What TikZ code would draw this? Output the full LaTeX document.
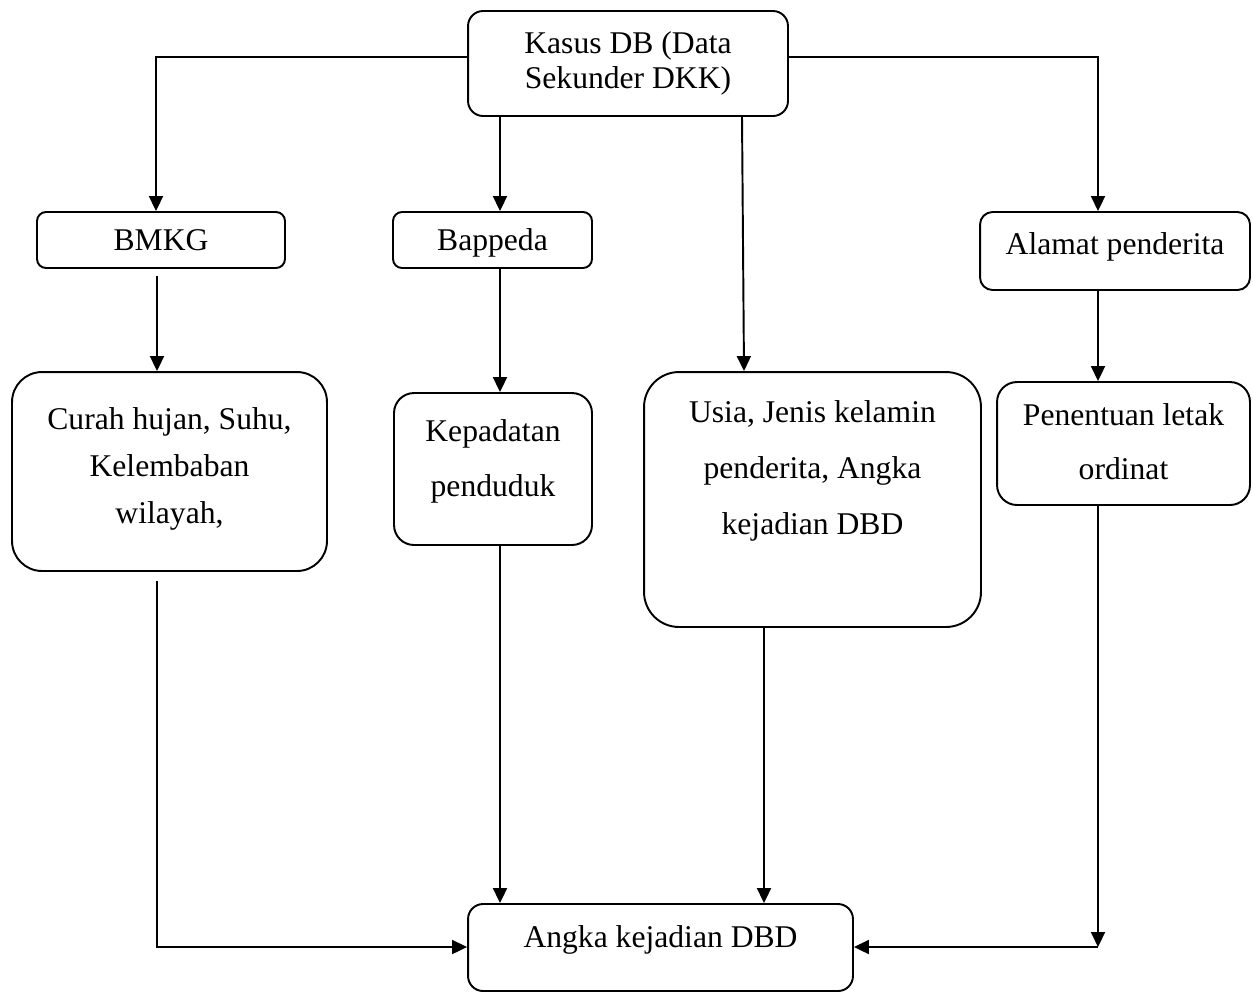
\documentclass[tikz,border=0pt]{standalone}
\usepackage{fontspec}
\setmainfont{Liberation Serif}
\usepackage{tikz}
\usetikzlibrary{arrows.meta}

\begin{document}
\begin{tikzpicture}[
	x=0.02cm, y=-0.02cm,
	kotak/.style={rectangle, draw=black, line width=1.1pt, align=center, inner sep=0pt,
	              font=\fontsize{18}{20}\selectfont},
	arr/.style={-{Triangle[length=0.3cm, width=0.28cm]}, draw=black, line width=1.1pt}
	]
\useasboundingbox (0,0) rectangle (1253,992);

\node[kotak, rounded corners=0.3cm, minimum width=6.4cm, minimum height=2.1cm] (kasus) at (628,63.5)
	{Kasus DB (Data\\ Sekunder DKK)};

\node[kotak, rounded corners=0.18cm, minimum width=4.96cm, minimum height=1.12cm, text depth=0pt] (bmkg) at (161,240) {BMKG};
\node[kotak, rounded corners=0.18cm, minimum width=3.98cm, minimum height=1.12cm, text depth=0pt] (bappeda) at (492.5,240) {Bappeda};
\node[kotak, rounded corners=0.25cm, minimum width=5.4cm, minimum height=1.56cm, text depth=8pt] (alamat) at (1115,251)
	{Alamat penderita};

\node[kotak, rounded corners=0.6cm, minimum width=6.3cm, minimum height=3.98cm, text depth=7pt,
      font=\fontsize{18}{26.7}\selectfont] (curah) at (169.5,471.5)
	{Curah hujan, Suhu,\\ Kelembaban\\ wilayah,};
\node[kotak, rounded corners=0.4cm, minimum width=3.96cm, minimum height=3.04cm, text depth=12pt,
      font=\fontsize{18}{31.3}\selectfont] (kepadatan) at (493,469)
	{Kepadatan\\ penduduk};
\node[kotak, rounded corners=0.7cm, minimum width=6.74cm, minimum height=5.1cm, text depth=36pt,
      font=\fontsize{18}{31.8}\selectfont] (usia) at (812.5,499.5)
	{Usia, Jenis kelamin\\ penderita, Angka\\ kejadian DBD};
\node[kotak, rounded corners=0.4cm, minimum width=5.06cm, minimum height=2.46cm, text depth=2pt,
      font=\fontsize{18}{30.7}\selectfont] (penentuan) at (1123.5,443.5)
	{Penentuan letak\\ ordinat};

\node[kotak, rounded corners=0.3cm, minimum width=7.7cm, minimum height=1.74cm, text depth=12pt] (angka) at (660.5,947.5)
	{Angka kejadian DBD};

\coordinate (kl) at (156,57);
\coordinate (kr) at (1098,57);
\coordinate (bl) at (157,947);
\coordinate (br) at (1098,947);

\draw[arr] (kasus.west |- kl) -- (kl) -- (kl |- bmkg.north);
\draw[arr] (500,0 |- kasus.south) -- (500,0 |- bappeda.north);
\draw[arr] (742,0 |- kasus.south) -- (744,0 |- usia.north);
\draw[arr] (kasus.east |- kr) -- (kr) -- (kr |- alamat.north);

\draw[arr, shorten <=0.14cm] (157,0 |- bmkg.south) -- (157,0 |- curah.north);
\draw[arr] (500,0 |- bappeda.south) -- (500,0 |- kepadatan.north);
\draw[arr] (kr |- alamat.south) -- (kr |- penentuan.north);

\draw[arr, shorten <=0.18cm] (bl |- curah.south) -- (bl) -- (angka.west |- bl);
\draw[arr] (500,0 |- kepadatan.south) -- (500,0 |- angka.north);
\draw[arr] (764,0 |- usia.south) -- (764,0 |- angka.north);
\draw[arr] (br |- penentuan.south) -- (br);
\draw[arr] (br) -- (angka.east |- br);
\end{tikzpicture}
\end{document}
